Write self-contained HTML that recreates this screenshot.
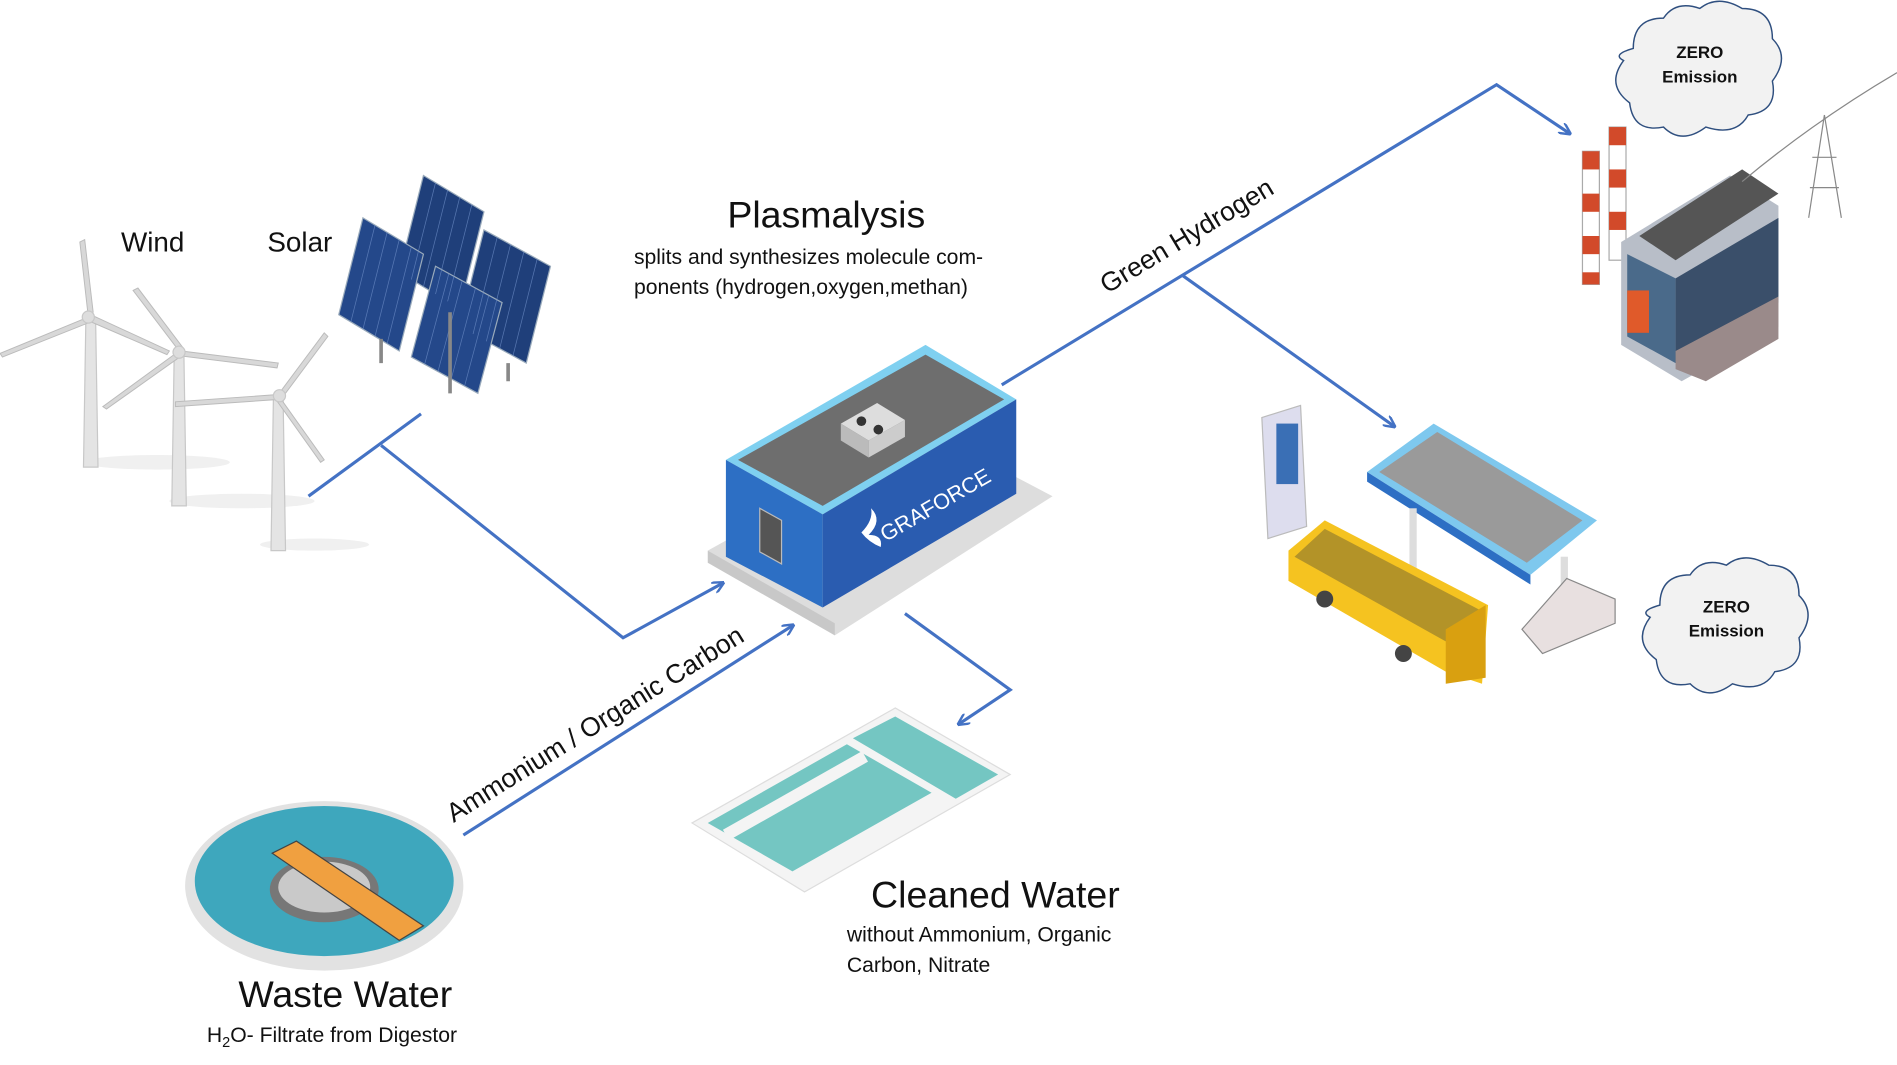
<!DOCTYPE html>
<html><head><meta charset="utf-8"><style>
html,body{margin:0;padding:0;background:#fff;}
svg{display:block;}
text{font-family:"Liberation Sans",sans-serif;fill:#111;}
</style></head><body>
<svg width="1897" height="1065" viewBox="0 0 1568 880" preserveAspectRatio="none" xmlns="http://www.w3.org/2000/svg">
<defs>
<marker id="ar" markerWidth="10" markerHeight="10" refX="8" refY="5" orient="auto" markerUnits="userSpaceOnUse" viewBox="0 0 10 10">
<path d="M0,0 L10,5 L0,10" fill="none" stroke="#4472C4" stroke-width="2"/></marker>
</defs>
<rect width="1568" height="880" fill="#fff"/>

<!-- wind turbines -->
<g stroke="#c8c8c8" fill="#e4e4e4">
<ellipse cx="130" cy="382" rx="60" ry="6" fill="#f0f0f0" stroke="none"/>
<ellipse cx="200" cy="414" rx="60" ry="6" fill="#f0f0f0" stroke="none"/>
<ellipse cx="260" cy="450" rx="45" ry="5" fill="#f0f0f0" stroke="none"/>
<path d="M71,262 L79,262 L81,386 L69,386Z"/>
<path d="M144,292 L152,292 L154,418 L142,418Z"/>
<path d="M226,328 L234,328 L236,455 L224,455Z"/>
<g fill="#d8d8d8" stroke="#bbb" stroke-width="0.8">
<path d="M73,262 L66,200 L70,198 L77,258Z"/><path d="M73,262 L0,292 L2,295 L75,266Z"/><path d="M75,260 L140,290 L138,293 L73,265Z"/>
<path d="M148,290 L110,240 L114,238 L151,287Z"/><path d="M148,290 L85,336 L88,338 L150,294Z"/><path d="M150,290 L230,300 L229,304 L149,294Z"/>
<path d="M230,326 L268,275 L271,278 L233,329Z"/><path d="M230,326 L145,332 L145,336 L231,330Z"/><path d="M231,328 L268,380 L265,382 L228,330Z"/>
</g>
<circle cx="73" cy="262" r="5" fill="#ddd"/><circle cx="148" cy="291" r="5" fill="#ddd"/><circle cx="231" cy="327" r="5" fill="#ddd"/>
</g>
<text x="100" y="208" font-size="23">Wind</text>
<text x="221" y="208" font-size="23">Solar</text>

<!-- solar panels -->
<g stroke="#9ab" stroke-width="1">
<polygon points="350,145 400,175 380,255 330,225" fill="#1f3f7a"/>
<polygon points="300,180 350,210 330,290 280,260" fill="#24488a"/>
<polygon points="400,190 455,220 435,300 380,270" fill="#1f3f7a"/>
<polygon points="360,220 415,250 395,325 340,295" fill="#24488a"/>
</g>
<g stroke="#6f8fc8" stroke-width="0.6" opacity="0.7">
<path d="M360,151 L340,231 M370,157 L350,237 M380,163 L360,243 M390,169 L370,249"/>
<path d="M310,186 L290,266 M320,192 L300,272 M330,198 L310,278 M340,204 L320,284"/>
<path d="M411,196 L391,276 M422,202 L402,282 M433,208 L413,288 M444,214 L424,294"/>
<path d="M371,226 L351,301 M382,232 L362,307 M393,238 L373,313 M404,244 L384,319"/>
</g>
<g stroke="#888" stroke-width="3"><path d="M372,258 L372,325 M315,280 L315,300 M420,300 L420,315"/></g>

<!-- connectors -->
<g stroke="#4472C4" stroke-width="2.6" fill="none">
<path d="M255,410 L348,342"/>
<path d="M315,368 L515,527 L597,482" marker-end="url(#ar)"/>
<path d="M383,690 L655,517" marker-end="url(#ar)"/>
<path d="M828,318 L1237,70 L1297,110" marker-end="url(#ar)"/>
<path d="M978,228 L1152,352" marker-end="url(#ar)"/>
<path d="M748,507 L835,570 L793,598" marker-end="url(#ar)"/>
</g>

<text x="683" y="188" font-size="31" text-anchor="middle">Plasmalysis</text>
<text x="524" y="218" font-size="17.5">splits and synthesizes molecule com-</text>
<text x="524" y="243" font-size="17.5">ponents (hydrogen,oxygen,methan)</text>
<text transform="translate(915,243) rotate(-31)" font-size="22">Green Hydrogen</text>
<text transform="translate(375,680) rotate(-32)" font-size="22">Ammonium / Organic Carbon</text>

<!-- building -->
<polygon points="585,455 765,355 870,410 690,525" fill="#ddd"/>
<polygon points="585,455 690,515 690,525 585,465" fill="#c8c8c8"/>
<polygon points="600,380 765,285 840,330 680,425" fill="#7fd0f0"/>
<polygon points="610,380 765,293 830,330 680,418" fill="#6e6e6e"/>
<polygon points="600,380 680,425 680,502 600,460" fill="#2d6fc4"/>
<polygon points="680,425 840,330 840,408 680,502" fill="#2a5cb0"/>
<polygon points="628,420 646,430 646,466 628,456" fill="#555" stroke="#bbb"/>
<polygon points="695,350 725,333 748,347 718,364" fill="#ddd"/>
<polygon points="695,350 718,364 718,378 695,364" fill="#bbb"/>
<polygon points="718,364 748,347 748,361 718,378" fill="#ccc"/>
<circle cx="712" cy="348" r="4" fill="#333"/><circle cx="726" cy="355" r="4" fill="#333"/>
<text transform="translate(732,448) rotate(-30)" font-size="18" fill="#fff" style="fill:#fff">GRAFORCE</text>
<path d="M712,440 q10,-10 8,-20 q10,10 -2,22 q12,0 10,10 q-10,-4 -16,-12z" fill="#fff"/>

<!-- cleaned water pools -->
<polygon points="572,680 740,585 835,640 665,737" fill="#f4f4f4" stroke="#ddd"/>
<polygon points="585,680 700,615 770,655 655,720" fill="#74c6c2"/>
<polygon points="705,610 740,592 825,640 790,660" fill="#74c6c2"/>
<path d="M600,690 L715,625" stroke="#f4f4f4" stroke-width="10"/>
<text x="720" y="750" font-size="31">Cleaned Water</text>
<text x="700" y="778" font-size="17.5">without  Ammonium, Organic</text>
<text x="700" y="803" font-size="17.5">Carbon, Nitrate</text>

<!-- waste water -->
<ellipse cx="268" cy="732" rx="115" ry="70" fill="#e2e2e2"/>
<ellipse cx="268" cy="728" rx="107" ry="62" fill="#3ea7bd"/>
<ellipse cx="268" cy="735" rx="45" ry="27" fill="#777"/>
<ellipse cx="268" cy="733" rx="38" ry="21" fill="#c9c9c9"/>
<polygon points="225,705 245,695 350,765 330,777" fill="#f0a040" stroke="#444"/>
<text x="197" y="832" font-size="31">Waste Water</text>
<text x="171" y="861" font-size="17.5">H<tspan font-size="12" dy="4">2</tspan><tspan dy="-4">O- Filtrate from Digestor</tspan></text>

<!-- factory -->
<g>
<rect x="1308" y="125" width="14" height="110" fill="#fff" stroke="#aaa"/>
<rect x="1308" y="125" width="14" height="15" fill="#d24a2a"/><rect x="1308" y="160" width="14" height="15" fill="#d24a2a"/><rect x="1308" y="195" width="14" height="15" fill="#d24a2a"/><rect x="1308" y="225" width="14" height="10" fill="#d24a2a"/>
<rect x="1330" y="105" width="14" height="110" fill="#fff" stroke="#aaa"/>
<rect x="1330" y="105" width="14" height="15" fill="#d24a2a"/><rect x="1330" y="140" width="14" height="15" fill="#d24a2a"/><rect x="1330" y="175" width="14" height="15" fill="#d24a2a"/>
<polygon points="1340,200 1430,145 1470,170 1470,270 1390,315 1340,285" fill="#b8bec8"/>
<polygon points="1355,195 1440,140 1470,160 1385,215" fill="#555"/>
<polygon points="1345,210 1385,230 1385,300 1345,278" fill="#4a6a8a"/>
<polygon points="1385,230 1470,180 1470,250 1385,300" fill="#3a4f6a"/>
<rect x="1345" y="240" width="18" height="35" fill="#e05a2a"/>
<polygon points="1385,290 1470,245 1470,280 1410,315 1385,305" fill="#9a8a8a"/>
<path d="M1508,95 L1495,180 M1508,95 L1522,180 M1498,130 L1518,130 M1496,155 L1520,155 M1440,150 Q1500,100 1568,60" stroke="#888" fill="none" stroke-width="1"/>
</g>

<!-- clouds -->
<g fill="#f2f2f2" stroke="#2f4f7f" stroke-width="1.2">
<path d="M1350,40 q0,-25 25,-25 q10,-15 30,-8 q15,-12 35,0 q25,0 25,25 q15,15 0,35 q5,25 -20,28 q-10,18 -35,10 q-20,15 -35,0 q-25,5 -28,-20 q-20,-15 -5,-35 q-10,-5 8,-10z"/>
<path d="M1372,500 q0,-25 25,-25 q10,-15 30,-8 q15,-12 35,0 q25,0 25,25 q15,15 0,35 q5,25 -20,28 q-10,18 -35,10 q-20,15 -35,0 q-25,5 -28,-20 q-20,-15 -5,-35 q-10,-5 8,-10z"/>
</g>
<text x="1405" y="48" font-size="14" font-weight="bold" text-anchor="middle">ZERO</text>
<text x="1405" y="68" font-size="14" font-weight="bold" text-anchor="middle">Emission</text>
<text x="1427" y="506" font-size="14" font-weight="bold" text-anchor="middle">ZERO</text>
<text x="1427" y="526" font-size="14" font-weight="bold" text-anchor="middle">Emission</text>

<!-- gas station -->
<polygon points="1043,345 1075,335 1080,435 1048,445" fill="#dde" stroke="#bbb"/>
<rect x="1055" y="350" width="18" height="50" fill="#3a6fb5"/>
<polygon points="1130,390 1185,350 1320,430 1265,475" fill="#7ec8ee"/>
<polygon points="1140,390 1188,357 1308,430 1262,465" fill="#9a9a9a"/>
<polygon points="1130,390 1265,475 1265,483 1130,398" fill="#2d6fc4"/>
<rect x="1165" y="420" width="6" height="70" fill="#ddd"/>
<rect x="1290" y="460" width="6" height="50" fill="#ddd"/>
<polygon points="1065,455 1095,430 1230,500 1225,565 1195,555 1065,480" fill="#f5c320"/>
<polygon points="1070,460 1095,437 1225,505 1195,530" fill="#3a3a3a" opacity="0.35"/>
<polygon points="1195,520 1228,500 1228,560 1195,565" fill="#d9a010"/>
<circle cx="1095" cy="495" r="7" fill="#444"/><circle cx="1160" cy="540" r="7" fill="#444"/>
<polygon points="1258,520 1295,478 1335,495 1335,515 1275,540" fill="#e8e0e0" stroke="#888"/>
</svg>
</body></html>
